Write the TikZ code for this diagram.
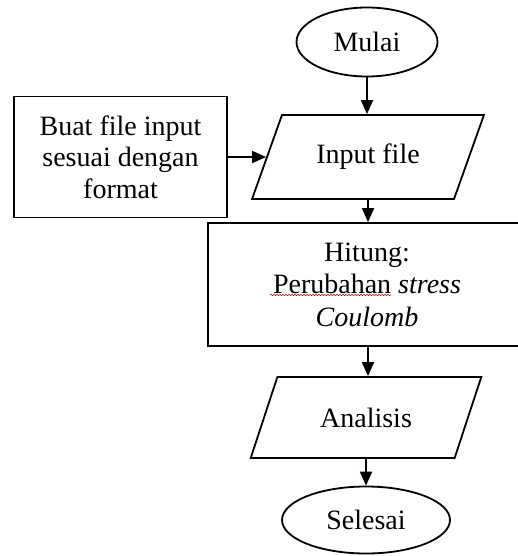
\documentclass[tikz,border=0pt]{standalone}
\usepackage{fontspec}
\setmainfont{Liberation Serif}
\usetikzlibrary{shapes.geometric,arrows.meta,decorations.pathmorphing}
\begin{document}
\begin{tikzpicture}[x=1pt,y=-1pt,
  line width=1.8pt,
  every node/.append style={font=\fontsize{28}{31.5}\selectfont, align=center, inner sep=0pt},
  terminal/.style={draw, ellipse},
  io/.style={draw, trapezium, trapezium left angle=55, trapezium right angle=125,
    trapezium stretches=true, minimum width=232pt, minimum height=84pt},
  process/.style={draw, rectangle},
  flow/.style={-{Triangle[length=14pt,width=12pt]}, line width=1.8pt}]
\clip (0,0) rectangle (518,556);

% flowchart nodes
\node[terminal, minimum width=141pt, minimum height=69pt] (mulai) at (367,42) {Mulai};
\node[io] (input) at (368,157) {Input file};
\node[process, minimum width=213pt, minimum height=121pt] (buat) at (120.5,157)
  {Buat file input\\sesuai dengan\\format};
\node[process, minimum width=318pt, minimum height=123pt,
  font=\fontsize{28}{32.5}\selectfont] (hitung) at (367,284.5)
  {Hitung:\\Perubahan \textit{stress}\\\textit{Coulomb}};
\node[io, minimum width=231pt, minimum height=81pt] (analisis) at (366,417.5) {Analisis};
\node[terminal, minimum width=168pt, minimum height=67pt] (selesai) at (366,520) {Selesai};

% spell-check squiggle under "Perubahan"
\draw[red!85!black, line width=0.6pt, decorate,
  decoration={snake, amplitude=0.7pt, segment length=3pt}] (270,295) -- (391,295);

% connectors
\draw[flow] (mulai.south) -- (mulai.south |- input.north);
\draw[flow] (buat) -- (input);
\draw[flow] (input.south) -- (input.south |- hitung.north);
\draw[flow] (input.south |- hitung.south) -- (input.south |- analisis.north);
\draw[flow] (analisis.south) -- (analisis.south |- selesai.north);
\end{tikzpicture}
\end{document}
